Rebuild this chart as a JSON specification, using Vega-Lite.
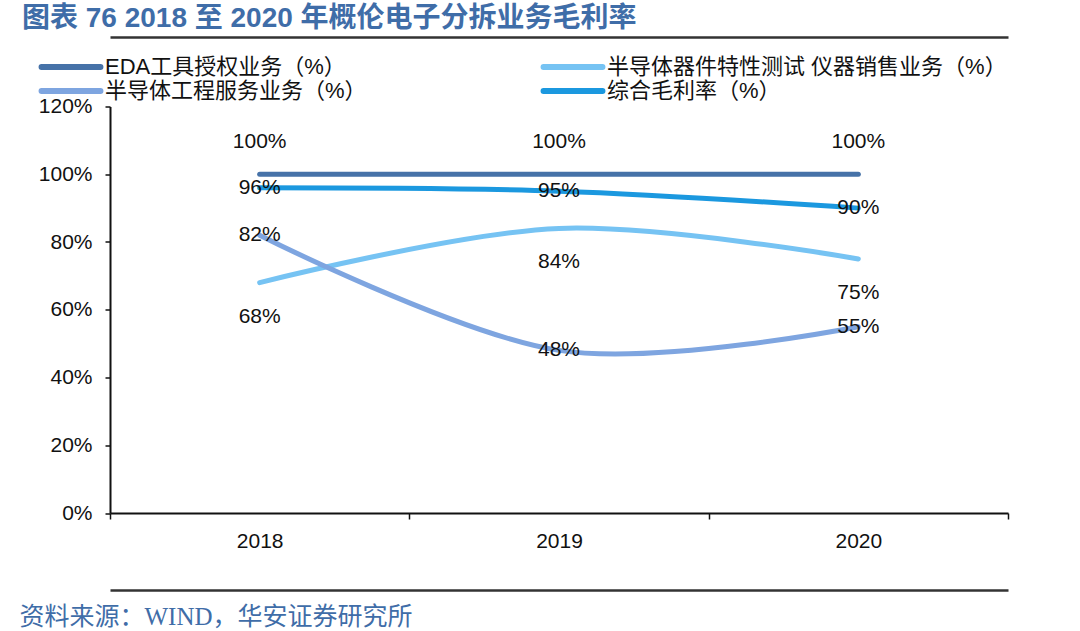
{
  "$schema": "https://vega.github.io/schema/vega-lite/v6.json",
  "width": 898,
  "height": 406.5,
  "autosize": {"type": "none"},
  "padding": {"left": 110, "top": 106.5, "right": 72, "bottom": 118},
  "background": "white",
  "title": {
    "text": "图表 76 2018 至 2020 年概伦电子分拆业务毛利率",
    "anchor": "start",
    "frame": "group",
    "dx": -88,
    "offset": 4,
    "font": "Liberation Sans, Noto Sans CJK SC",
    "fontSize": 28,
    "fontWeight": "bold",
    "color": "#3F6DA8"
  },
  "data": {
    "values": [
      {"系列": "EDA工具授权业务（%）", "年份": "2018", "毛利率": 1.00},
      {"系列": "EDA工具授权业务（%）", "年份": "2019", "毛利率": 1.00},
      {"系列": "EDA工具授权业务（%）", "年份": "2020", "毛利率": 1.00},
      {"系列": "半导体器件特性测试 仪器销售业务（%）", "年份": "2018", "毛利率": 0.68},
      {"系列": "半导体器件特性测试 仪器销售业务（%）", "年份": "2019", "毛利率": 0.84},
      {"系列": "半导体器件特性测试 仪器销售业务（%）", "年份": "2020", "毛利率": 0.75},
      {"系列": "半导体工程服务业务（%）", "年份": "2018", "毛利率": 0.82},
      {"系列": "半导体工程服务业务（%）", "年份": "2019", "毛利率": 0.48},
      {"系列": "半导体工程服务业务（%）", "年份": "2020", "毛利率": 0.55},
      {"系列": "综合毛利率（%）", "年份": "2018", "毛利率": 0.96},
      {"系列": "综合毛利率（%）", "年份": "2019", "毛利率": 0.95},
      {"系列": "综合毛利率（%）", "年份": "2020", "毛利率": 0.90}
    ]
  },
  "layer": [
    {
      "mark": {"type": "line", "interpolate": "cardinal", "strokeWidth": 5, "strokeCap": "round", "strokeJoin": "round"},
      "encoding": {
        "x": {
          "field": "年份", "type": "ordinal",
          "scale": {"type": "band", "paddingInner": 0, "paddingOuter": 0},
          "axis": {
            "orient": "bottom", "title": null, "tickBand": "extent",
            "labelAngle": 0, "labelFont": "Liberation Sans", "labelFontSize": 21, "labelColor": "#111",
            "labelPadding": 11, "tickSize": 6, "tickColor": "#111", "tickWidth": 1.5,
            "domainColor": "#111", "domainWidth": 2, "grid": false
          }
        },
        "y": {
          "field": "毛利率", "type": "quantitative",
          "scale": {"domain": [0, 1.2], "nice": false, "zero": true},
          "axis": {
            "title": null, "values": [0, 0.2, 0.4, 0.6, 0.8, 1.0, 1.2], "format": ".0%",
            "labelFont": "Liberation Sans", "labelFontSize": 21, "labelColor": "#111",
            "labelPadding": 13, "tickSize": 5, "tickColor": "#111", "tickWidth": 1.5,
            "domainColor": "#111", "domainWidth": 2, "grid": false
          }
        },
        "color": {
          "field": "系列", "type": "nominal",
          "scale": {
            "domain": ["EDA工具授权业务（%）", "半导体器件特性测试 仪器销售业务（%）", "半导体工程服务业务（%）", "综合毛利率（%）"],
            "range": ["#4672A8", "#76C3F3", "#7EA5E0", "#1B98DF"]
          },
          "legend": {
            "orient": "none", "legendX": -50, "legendY": -50.5,
            "direction": "horizontal", "columns": 2, "title": null,
            "symbolType": "M-4,0H4", "symbolSize": 217, "symbolStrokeWidth": 6,
            "labelFont": "Liberation Sans, Noto Sans CJK SC", "labelFontSize": 22, "labelColor": "#111",
            "labelOffset": 23, "columnPadding": 164, "rowPadding": 0, "labelLimit": 600,
            "encode": {"symbols": {"update": {"strokeCap": {"value": "round"}}}}
          }
        }
      }
    },
    {
      "transform": [{"filter": "datum['系列'] === 'EDA工具授权业务（%）'"}],
      "mark": {"type": "text", "dy": -32, "font": "Liberation Sans", "fontSize": 21, "color": "#111"},
      "encoding": {
        "x": {
          "field": "年份", "type": "ordinal",
          "axis": {"orient": "top", "offset": 69.5, "domain": true, "labels": false, "ticks": false, "title": null, "domainColor": "#333", "domainWidth": 2.5, "grid": false}
        },
        "y": {"field": "毛利率", "type": "quantitative"},
        "text": {"field": "毛利率", "type": "quantitative", "format": ".0%"}
      }
    },
    {
      "transform": [{"filter": "datum['系列'] === '半导体器件特性测试 仪器销售业务（%）'"}],
      "mark": {"type": "text", "dy": 34, "font": "Liberation Sans", "fontSize": 21, "color": "#111"},
      "encoding": {
        "x": {
          "field": "年份", "type": "ordinal",
          "axis": {
            "orient": "top", "offset": -483.5, "domain": true, "labels": false, "ticks": false, "domainColor": "#333", "domainWidth": 2.5, "grid": false,
            "title": "资料来源：WIND，华安证券研究所", "titleX": -91, "titleY": 26, "titleAlign": "left", "titleAnchor": "start",
            "titleBaseline": "middle", "titleFont": "Liberation Serif, Noto Sans CJK SC", "titleFontSize": 25,
            "titleFontWeight": "normal", "titleColor": "#3F6DA8"
          }
        },
        "y": {"field": "毛利率", "type": "quantitative"},
        "text": {"field": "毛利率", "type": "quantitative", "format": ".0%"}
      }
    },
    {
      "transform": [{"filter": "datum['系列'] === '半导体工程服务业务（%）' || datum['系列'] === '综合毛利率（%）'"}],
      "mark": {"type": "text", "dy": 0, "font": "Liberation Sans", "fontSize": 21, "color": "#111"},
      "encoding": {
        "x": {"field": "年份", "type": "ordinal", "axis": null},
        "y": {"field": "毛利率", "type": "quantitative"},
        "text": {"field": "毛利率", "type": "quantitative", "format": ".0%"}
      }
    }
  ],
  "resolve": {"axis": {"x": "independent"}},
  "config": {"view": {"stroke": null}}
}
